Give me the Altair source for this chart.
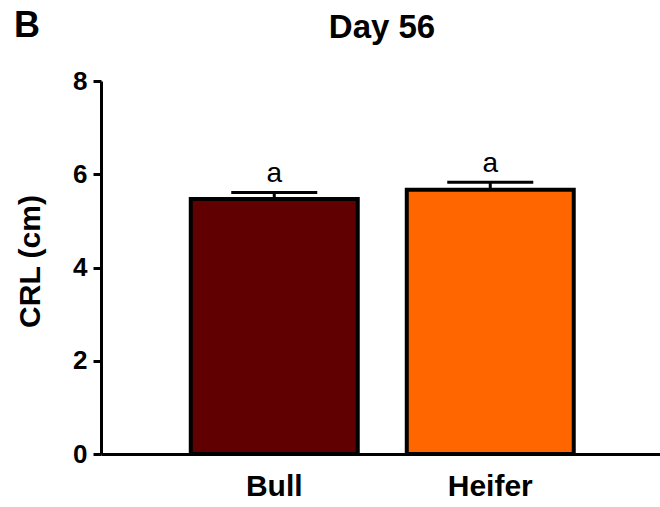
import altair as alt
import pandas as pd

# Crown-rump length at day 56 by fetal sex
groups = ["Bull", "Heifer"]
means = [5.47, 5.67]
sems = [0.14, 0.16]
letters = ["a", "a"]
colors = ["#600000", "#FF6600"]

df = pd.DataFrame({
    "group": groups,
    "mean": means,
    "upper": [m + s for m, s in zip(means, sems)],
    "letter": letters,
})

FONT = "Liberation Sans"

x_enc = alt.X(
    "group:N",
    sort=groups,
    scale=alt.Scale(paddingInner=0.227, paddingOuter=0.4075, align=0.51),
    axis=alt.Axis(
        title=None,
        labelAngle=0,
        ticks=False,
        grid=False,
        domainWidth=3,
        domainColor="black",
        labelFont=FONT,
        labelFontSize=30,
        labelFontWeight="bold",
        labelColor="black",
        labelPadding=17,
    ),
)

y_scale = alt.Scale(domain=[0, 8])
y_axis = alt.Axis(
    title="CRL (cm)",
    values=[0, 2, 4, 6, 8],
    grid=False,
    domainWidth=3,
    domainColor="black",
    tickWidth=3,
    tickSize=8,
    tickColor="black",
    labelFont=FONT,
    labelFontSize=26,
    labelFontWeight="bold",
    labelColor="black",
    labelPadding=6,
    titleFont=FONT,
    titleFontSize=30,
    titleFontWeight="bold",
    titleColor="black",
    titleX=-71,
    titleY=180,
    titleAngle=-90,
    titleAlign="center",
    titleBaseline="middle",
)

base = alt.Chart(df).encode(x=x_enc)

bars = base.mark_bar(stroke="black", strokeWidth=4, opacity=1).encode(
    y=alt.Y("mean:Q", scale=y_scale, axis=y_axis),
    color=alt.Color("group:N", scale=alt.Scale(domain=groups, range=colors), legend=None),
)

stems = base.mark_rule(color="black", strokeWidth=3, opacity=1).encode(
    y=alt.Y("mean:Q", scale=y_scale),
    y2="upper:Q",
)

caps = base.mark_tick(color="black", thickness=3, size=86, opacity=1).encode(
    y=alt.Y("upper:Q", scale=y_scale),
)

marks = base.mark_text(
    font=FONT, fontSize=28, color="black", baseline="alphabetic", dy=-10
).encode(
    y=alt.Y("upper:Q", scale=y_scale),
    text="letter:N",
)

# Panel letter and heading, placed relative to the plot origin
panel = alt.Chart(pd.DataFrame({"t": ["B"]})).mark_text(
    font=FONT, fontSize=36, fontWeight="bold", color="black",
    align="left", baseline="alphabetic",
).encode(x=alt.value(-87), y=alt.value(-44), text="t:N")

heading = alt.Chart(pd.DataFrame({"t": ["Day 56"]})).mark_text(
    font=FONT, fontSize=33, fontWeight="bold", color="black",
    align="center", baseline="alphabetic",
).encode(x=alt.value(281), y=alt.value(-43), text="t:N")

chart = alt.layer(bars, stems, caps, marks, panel, heading).properties(
    width=559,
    height=373,
    background="white",
    autosize=alt.AutoSizeParams(type="none"),
    padding={"left": 101, "top": 81, "right": 0, "bottom": 53},
).configure_view(stroke=None)

chart.save("out.html", embed_options={"renderer": "svg", "actions": False})
